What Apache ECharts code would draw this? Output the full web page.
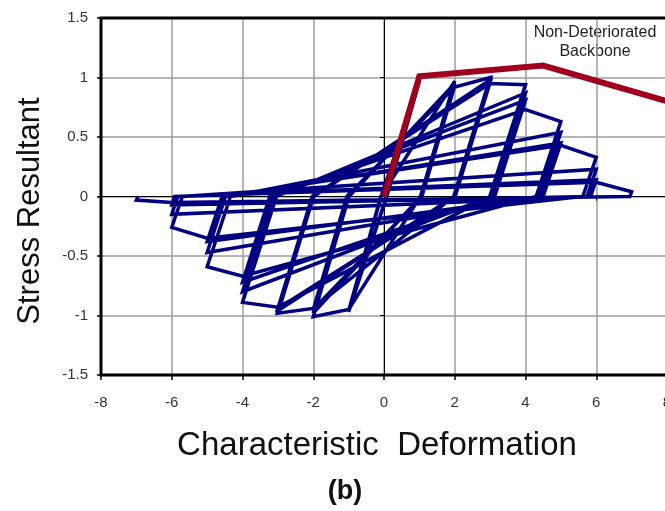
<!DOCTYPE html>
<html>
<head>
<meta charset="utf-8">
<script src="https://cdn.jsdelivr.net/npm/echarts@6/dist/echarts.min.js"></script>
<style>
  html, body { margin: 0; padding: 0; background: #fff; }
  #chart { width: 665px; height: 511px; }
</style>
</head>
<body>
<div id="chart"></div>
<script>
// Tick values of both axes
const xTicks = [-8, -6, -4, -2, 0, 2, 4, 6, 8];
const yTicks = [-1.5, -1, -0.5, 0, 0.5, 1, 1.5];

// Monotonic (non-deteriorated) backbone curve
const backbone = [[0, 0], [1, 1.01], [4.5, 1.1], [8, 0.8]];

// Cyclic response, grouped by target deformation amplitude.
// Each group continues from the last point of the previous one.
const cyclesAmp1 = [[0, 0], [1, 0.98], [0.07, 0], [-1, -0.97], [-0.08, 0], [1, 0.97], [0.08, 0], [-1, -0.96], [-0.09, 0]];
const cyclesAmp2 = [[2, 0.97], [1.03, 0], [-1, -0.95], [-2, -1.01], [-0.99, 0], [2, 0.95], [1.05, 0], [-2, -0.98], [-1.02, 0], [2, 0.93], [1.07, 0], [-2, -0.95], [-1.05, 0]];
const cyclesAmp3 = [[2, 0.92], [3, 1.0], [1.97, 0], [-2, -0.94], [-3, -0.98], [-1.99, 0], [3, 0.98], [1.99, 0], [-3, -0.96], [-2.01, 0], [3, 0.96], [2.01, 0], [-3, -0.94], [-2.03, 0]];
const cyclesAmp4 = [[3, 0.95], [4, 0.94], [2.99, 0], [-3, -0.93], [-4, -0.89], [-3.04, 0], [4, 0.87], [3.06, 0], [-4, -0.8], [-3.14, 0], [4, 0.81], [3.13, 0], [-4, -0.72], [-3.23, 0]];
const cyclesAmp5 = [[4, 0.73], [5, 0.63], [4.3, 0], [-4, -0.67], [-5, -0.59], [-4.34, 0], [5, 0.54], [4.4, 0], [-5, -0.47], [-4.48, 0], [5, 0.45], [4.5, 0], [-5, -0.38], [-4.58, 0]];
const cyclesAmp6 = [[5, 0.43], [6, 0.33], [5.62, 0], [-5, -0.35], [-6, -0.26], [-5.7, 0], [6, 0.23], [5.74, 0], [-6, -0.15], [-5.83, 0], [6, 0.14], [5.84, 0], [-6, -0.07], [-5.92, 0]];
const cyclesAmp7 = [[6, 0.12], [7, 0.04], [6.95, 0], [-6, -0.05], [-7, -0.03], [-6.96, 0]];

const hysteresis = [].concat(cyclesAmp1, cyclesAmp2, cyclesAmp3, cyclesAmp4, cyclesAmp5, cyclesAmp6, cyclesAmp7);

const FONT = '"Liberation Sans", Arial, sans-serif';
const xMin = xTicks[0], xMax = xTicks[xTicks.length - 1];
const yMin = yTicks[0], yMax = yTicks[yTicks.length - 1];

const chart = echarts.init(document.getElementById('chart'), null, { renderer: 'canvas' });

const valueAxisBase = {
  type: 'value',
  splitLine: { show: false },
  axisLabel: { show: false },
  axisTick: { show: false },
  axisLine: { show: false }
};

const gridLineStyle = { color: '#9c9c9c', width: 1.5 };

chart.setOption({
  animation: false,
  backgroundColor: '#fff',
  grid: {
    left: 101, top: 18, right: -2, bottom: 136,
    show: true,
    borderColor: '#000',
    borderWidth: 3,
    backgroundColor: 'transparent',
    containLabel: false,
    outerBoundsMode: 'none',
    z: 1
  },
  xAxis: [
    Object.assign({}, valueAxisBase, {
      position: 'bottom',
      min: xMin, max: xMax, interval: 2,
      axisLine: { show: false, onZero: false },
      axisTick: { show: true, length: 5, lineStyle: { color: '#000', width: 1.5 } },
      axisLabel: {
        show: true, margin: 20, fontFamily: FONT, fontSize: 15, color: '#333',
        formatter: v => String(v)
      },
      splitLine: { show: true, showMinLine: false, showMaxLine: false, lineStyle: gridLineStyle }
    }),
    Object.assign({}, valueAxisBase, {
      position: 'top',
      min: xMin, max: xMax, interval: 2,
      axisLine: { show: true, onZero: true, onZeroAxisIndex: 0, lineStyle: { color: '#000', width: 1 } },
      axisTick: { show: true, inside: true, length: 4, lineStyle: { color: '#000', width: 1 } }
    })
  ],
  yAxis: [
    Object.assign({}, valueAxisBase, {
      position: 'left',
      min: yMin, max: yMax, interval: 0.5,
      axisLine: { show: false, onZero: false },
      axisTick: { show: true, length: 4, lineStyle: { color: '#000', width: 1.5 } },
      axisLabel: {
        show: true, margin: 13, fontFamily: FONT, fontSize: 15, color: '#333',
        formatter: v => String(v)
      },
      splitLine: { show: true, showMinLine: false, showMaxLine: false, lineStyle: gridLineStyle }
    }),
    Object.assign({}, valueAxisBase, {
      position: 'left',
      min: yMin, max: yMax, interval: 0.5,
      axisLine: { show: true, onZero: true, onZeroAxisIndex: 0, lineStyle: { color: '#000', width: 1 } },
      axisTick: { show: true, length: 4, lineStyle: { color: '#000', width: 1 } }
    })
  ],
  series: [
    {
      name: 'Cyclic response',
      type: 'line',
      xAxisIndex: 0, yAxisIndex: 0,
      data: hysteresis,
      showSymbol: false,
      symbol: 'none',
      lineStyle: { color: '#000080', width: 3.5, join: 'miter', miterLimit: 4 },
      z: 3
    },
    {
      name: 'Non-Deteriorated Backbone',
      type: 'line',
      xAxisIndex: 0, yAxisIndex: 0,
      data: backbone,
      showSymbol: false,
      symbol: 'none',
      lineStyle: { color: '#a0001e', width: 6, join: 'miter' },
      z: 4
    }
  ],
  graphic: [
    {
      type: 'text',
      style: {
        x: 377, y: 446, text: 'Characteristic  Deformation',
        font: '33px ' + FONT, fill: '#111', align: 'center', verticalAlign: 'middle'
      }
    },
    {
      type: 'text',
      rotation: Math.PI / 2,
      x: 30, y: 211,
      style: {
        x: 0, y: 0, text: 'Stress Resultant',
        font: '31px ' + FONT, fill: '#111', align: 'center', verticalAlign: 'middle'
      }
    },
    {
      type: 'text',
      style: {
        x: 345, y: 492, text: '(b)',
        font: 'bold 27px ' + FONT, fill: '#111', align: 'center', verticalAlign: 'middle'
      }
    },
    {
      type: 'text',
      style: {
        x: 595, y: 33, text: 'Non-Deteriorated',
        font: '16px ' + FONT, fill: '#222', align: 'center', verticalAlign: 'middle'
      }
    },
    {
      type: 'text',
      style: {
        x: 595, y: 52, text: 'Backbone',
        font: '16px ' + FONT, fill: '#222', align: 'center', verticalAlign: 'middle'
      }
    }
  ]
});
</script>
</body>
</html>
